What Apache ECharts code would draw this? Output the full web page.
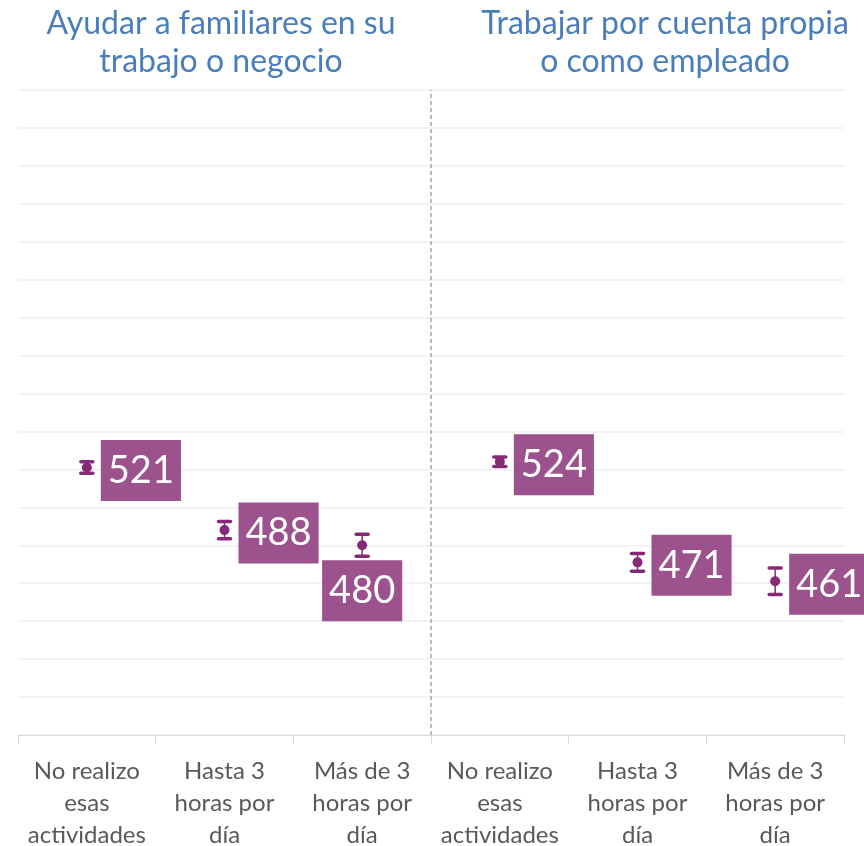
<!DOCTYPE html>
<html>
<head>
<meta charset="utf-8">
<script src="https://cdn.jsdelivr.net/npm/echarts@6/dist/echarts.min.js"></script>
<style>
  html, body { margin: 0; padding: 0; background: #fff; }
  #chart { width: 864px; height: 846px; }
</style>
</head>
<body>
<div id="chart"></div>
<script>
  // data
  const panelTitles = [
    ["Ayudar a familiares en su", "trabajo o negocio"],
    ["Trabajar por cuenta propia", "o como empleado"],
  ];
  const categories = [
    "No realizo\nesas\nactividades", "Hasta 3\nhoras por\ndía", "Más de 3\nhoras por\ndía",
    "No realizo\nesas\nactividades", "Hasta 3\nhoras por\ndía", "Más de 3\nhoras por\ndía",
  ];
  const scores = [521, 488, 480, 524, 471, 461];
  const errors = [3, 4.5, 5.8, 2.5, 4.7, 7];
  const yMin = 380;
  const yMax = 720;
  const yStep = 20;
  const panelBreak = 3; // categories before the dashed separator

  const labelPlacement = ["right", "right", "bottom", "right", "right", "right"];
  const titleCenters = [221, 665];
  const markColor = "#862A78";
  const boxColor = "#9C528C";

  const chart = echarts.init(document.getElementById("chart"));

  const titleTexts = [];
  panelTitles.forEach((lines, p) => {
    lines.forEach((line, k) => {
      titleTexts.push({
        type: "text",
        x: titleCenters[p],
        y: 8 + k * 38,
        style: {
          text: line,
          fill: "#4A7EBB",
          font: "32px Lato",
          textAlign: "center",
          textVerticalAlign: "top",
        },
      });
    });
  });

  chart.setOption({
    animation: false,
    grid: {
      left: 18, right: 20, top: 90, bottom: 111,
      containLabel: false,
      outerBoundsMode: "none",
    },
    graphic: titleTexts,
    xAxis: [
      {
        type: "category",
        data: categories,
        boundaryGap: true,
        axisLine: { lineStyle: { color: "#D9D9D9", width: 1 } },
        axisTick: { show: true, interval: 0, length: 9, lineStyle: { color: "#D9D9D9" } },
        axisLabel: {
          interval: 0,
          margin: 20,
          color: "#595959",
          fontFamily: "Lato",
          fontSize: 24,
          lineHeight: 32,
        },
        splitLine: { show: false },
      },
      {
        // hidden helper axis used to place the panel separator
        type: "value",
        min: 0,
        max: categories.length,
        show: false,
      },
    ],
    yAxis: {
      type: "value",
      min: yMin,
      max: yMax,
      interval: yStep,
      axisLabel: { show: false },
      axisLine: { show: false },
      axisTick: { show: false },
      splitLine: { lineStyle: { color: "#EFEFEF", width: 1.5 } },
    },
    series: [
      {
        type: "line",
        xAxisIndex: 1,
        data: [],
        silent: true,
        markLine: {
          silent: true,
          symbol: "none",
          label: { show: false },
          lineStyle: { color: "#A6A6A6", width: 1.5, type: [4, 3] },
          data: [{ xAxis: panelBreak }],
        },
      },
      {
        type: "custom",
        z: 3,
        data: scores.map((v, i) => [i, v, errors[i]]),
        renderItem(params, api) {
          const x = api.value(0);
          const v = api.value(1);
          const e = api.value(2);
          const top = api.coord([x, v + e]);
          const bot = api.coord([x, v - e]);
          const half = 6;
          const capStyle = { stroke: markColor, lineWidth: 3.5, lineCap: "round" };
          return {
            type: "group",
            children: [
              { type: "line", shape: { x1: top[0], y1: top[1], x2: bot[0], y2: bot[1] }, style: { stroke: markColor, lineWidth: 1.5 } },
              { type: "line", shape: { x1: top[0] - half, y1: top[1], x2: top[0] + half, y2: top[1] }, style: capStyle },
              { type: "line", shape: { x1: bot[0] - half, y1: bot[1], x2: bot[0] + half, y2: bot[1] }, style: capStyle },
            ],
          };
        },
      },
      {
        type: "scatter",
        z: 4,
        symbol: "circle",
        symbolSize: 10,
        itemStyle: { color: markColor, opacity: 1 },
        data: scores.map((v, i) => ({
          value: [i, v],
          label: {
            position: labelPlacement[i],
            distance: labelPlacement[i] === "bottom" ? 7 : 9,
          },
        })),
        label: {
          show: true,
          formatter: (p) => String(p.value[1]),
          color: "#fff",
          fontFamily: "Lato",
          fontSize: 38,
          backgroundColor: boxColor,
          lineHeight: 47,
          padding: [7, 7],
          offset: [0, 3],
        },
      },
    ],
  });
</script>
</body>
</html>
